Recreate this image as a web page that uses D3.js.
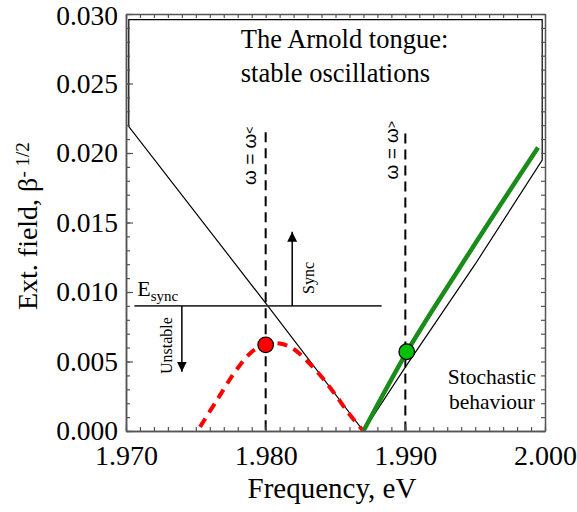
<!DOCTYPE html>
<html>
<head>
<meta charset="utf-8">
<script src="https://cdn.jsdelivr.net/npm/d3@7"></script>
<style>
body{margin:0;background:#fff;}
</style>
</head>
<body>
<div id="canvas"></div>
<script>
var width = 577;
var height = 512;
var margin = {top:14, right:32, bottom:81, left:126};
var serif = "'Liberation Serif', 'Times New Roman', Times, 'DejaVu Serif', serif";

// axes
var xDomain = [1.970, 2.000];
var yDomain = [0, 0.030];
var xMajor = [1.970, 1.980, 1.990, 2.000];
var yMajor = [0, 0.005, 0.010, 0.015, 0.020, 0.025, 0.030];
var xMinor = d3.range(0, 31).map(function(i){return 1.970 + i*0.001;});
var yMinor = d3.range(0, 31).map(function(i){return i*0.001;});

// Arnold tongue boundary (thin black)
var tongueX = [1.9702, 1.9702, 1.9800, 1.9870, 1.9900, 1.9950, 1.9998, 1.9998];
var tongueY = [0.0296, 0.0219, 0.0092, 0.0000, 0.0046, 0.0120, 0.0195, 0.0296];

// red dashed curve (unstable branch)
var redX = [1.9753, 1.9765, 1.9777, 1.9789, 1.9800, 1.9810, 1.9820, 1.9830, 1.9840, 1.9850, 1.9860, 1.9870];
var redY = [0.0003, 0.0022, 0.0041, 0.0056, 0.0062, 0.0063, 0.0059, 0.0050, 0.0039, 0.0026, 0.0012, 0.0000];

// green line
var greenX = [1.9870, 1.9900, 1.9938, 1.9995];
var greenY = [0.0000, 0.0055, 0.0116, 0.0204];

// markers
var pointX = [1.9800, 1.9901];
var pointY = [0.0062, 0.0057];
var pointColor = ["#ff0000", "#00c000"];

// vertical dashed lines
var vlineX = [1.980, 1.990];
var vlineTop = [0.0215, 0.0214];

var eSync = 0.009;
var eSyncX = [1.9706, 1.9883];
var syncArrow = [1.9819, 0.01433];
var unstableArrow = [1.9740, 0.00427];

var svg = d3.select("#canvas").append("svg")
	.attr("width", width)
	.attr("height", height)
	.attr("font-family", serif);

var defs = svg.append("defs");
defs.append("marker")
	.attr("id", "arr")
	.attr("viewBox", "0 0 10 10")
	.attr("refX", 10).attr("refY", 5)
	.attr("markerWidth", 10).attr("markerHeight", 10)
	.attr("markerUnits", "userSpaceOnUse")
	.attr("orient", "auto")
	.append("path").attr("d", "M0,0L10,5L0,10Z").attr("fill", "#000");

var x = d3.scaleLinear().domain(xDomain).range([margin.left, width - margin.right]);
var y = d3.scaleLinear().domain(yDomain).range([height - margin.bottom, margin.top]);

var line = d3.line().x(function(d){return x(d[0]);}).y(function(d){return y(d[1]);});
function zip(a, b){ return a.map(function(v, i){ return [v, b[i]]; }); }

// tongue boundary
svg.append("path")
	.datum(zip(tongueX, tongueY))
	.attr("d", function(d){ return line(d) + "Z"; })
	.attr("fill", "none")
	.attr("stroke", "#000")
	.attr("stroke-width", 1.2);

// E_sync line
svg.append("line")
	.attr("x1", x(eSyncX[0])).attr("x2", x(eSyncX[1]))
	.attr("y1", y(eSync)).attr("y2", y(eSync))
	.attr("stroke", "#333").attr("stroke-width", 1.6);

// arrows
svg.append("line")
	.attr("x1", x(syncArrow[0])).attr("x2", x(syncArrow[0]))
	.attr("y1", y(eSync)).attr("y2", y(syncArrow[1]))
	.attr("stroke", "#000").attr("stroke-width", 1.5)
	.attr("marker-end", "url(#arr)");
svg.append("line")
	.attr("x1", x(unstableArrow[0])).attr("x2", x(unstableArrow[0]))
	.attr("y1", y(eSync)).attr("y2", y(unstableArrow[1]))
	.attr("stroke", "#000").attr("stroke-width", 1.5)
	.attr("marker-end", "url(#arr)");

// vertical dashed lines
vlineX.forEach(function(v, i){
	svg.append("line")
		.attr("x1", x(v)).attr("x2", x(v))
		.attr("y1", y(vlineTop[i])).attr("y2", y(0))
		.attr("stroke", "#000").attr("stroke-width", 2)
		.attr("stroke-dasharray", "10,6");
});

// red dashed curve
svg.append("path")
	.datum(zip(redX, redY))
	.attr("d", d3.line().x(function(d){return x(d[0]);}).y(function(d){return y(d[1]);}).curve(d3.curveCardinal))
	.attr("fill", "none")
	.attr("stroke", "#ff0000")
	.attr("stroke-width", 4)
	.attr("stroke-dasharray", "10,7");

// green line
svg.append("path")
	.datum(zip(greenX, greenY))
	.attr("d", d3.line().x(function(d){return x(d[0]);}).y(function(d){return y(d[1]);}).curve(d3.curveMonotoneX))
	.attr("fill", "none")
	.attr("stroke", "#1a8c1a")
	.attr("stroke-width", 4.5);

// markers
svg.selectAll("circle.pt")
	.data(zip(pointX, pointY))
	.enter().append("circle")
	.attr("class", "pt")
	.attr("cx", function(d){return x(d[0]);})
	.attr("cy", function(d){return y(d[1]);})
	.attr("r", 7.8)
	.attr("fill", function(d, i){return pointColor[i];})
	.attr("stroke", "#000").attr("stroke-width", 1.2);

// axes
var axisColor = "#555";
function styleAxis(g){
	g.attr("font-family", serif);
	g.select(".domain").attr("stroke", axisColor).attr("stroke-width", 1.5);
	g.selectAll(".tick line").attr("stroke", axisColor).attr("stroke-width", 1.2);
	g.selectAll("text").attr("fill", "#000");
}
var fmt = d3.format(".3f");
var gx = svg.append("g").attr("transform", "translate(0," + y(0) + ")")
	.call(d3.axisBottom(x).tickValues(xMinor).tickFormat("").tickSizeInner(-4).tickSizeOuter(0));
styleAxis(gx);
var gx2 = svg.append("g").attr("transform", "translate(0," + y(0) + ")")
	.call(d3.axisBottom(x).tickValues(xMajor).tickFormat(fmt).tickSizeInner(-7).tickSizeOuter(0).tickPadding(14));
styleAxis(gx2);
gx2.attr("font-size", 28);

var gy = svg.append("g").attr("transform", "translate(" + x(xDomain[0]) + ",0)")
	.call(d3.axisLeft(y).tickValues(yMinor).tickFormat("").tickSizeInner(-4).tickSizeOuter(0));
styleAxis(gy);
var gy2 = svg.append("g").attr("transform", "translate(" + x(xDomain[0]) + ",0)")
	.call(d3.axisLeft(y).tickValues(yMajor).tickFormat(fmt).tickSizeInner(-7).tickSizeOuter(0).tickPadding(8));
styleAxis(gy2);
gy2.attr("font-size", 27.5);
// keep the top label inside the picture
gy2.selectAll(".tick text").filter(function(d){return d === yDomain[1];}).attr("y", 2);

var gt = svg.append("g").attr("transform", "translate(0," + y(yDomain[1]) + ")")
	.call(d3.axisTop(x).tickValues(xMinor).tickFormat("").tickSizeInner(-4).tickSizeOuter(0));
styleAxis(gt);
var gr = svg.append("g").attr("transform", "translate(" + x(xDomain[1]) + ",0)")
	.call(d3.axisRight(y).tickValues(yMinor).tickFormat("").tickSizeInner(-4).tickSizeOuter(0));
styleAxis(gr);

// axis titles
svg.append("text")
	.attr("x", 332)
	.attr("y", 498)
	.attr("text-anchor", "middle")
	.attr("font-size", 29)
	.text("Frequency, eV");

var yt = svg.append("text")
	.attr("transform", "translate(37," + (y(0.0087)) + ") rotate(-90)")
	.attr("text-anchor", "start")
	.attr("font-size", 28);
yt.append("tspan").text("Ext. field, β");
yt.append("tspan").attr("dy", -8).attr("font-size", 19).text("- 1/2");

// annotations
svg.append("text").attr("x", x(1.97822)).attr("y", y(0.02755))
	.attr("font-size", 26.5).text("The Arnold tongue:");
svg.append("text").attr("x", x(1.97822)).attr("y", y(0.02513))
	.attr("font-size", 26.5).text("stable oscillations");

var es = svg.append("text").attr("x", x(1.9708)).attr("y", y(0.0097)).attr("font-size", 22);
es.append("tspan").text("E");
es.append("tspan").attr("dy", 5).attr("font-size", 15).text("sync");

svg.append("text")
	.attr("transform", "translate(" + (x(syncArrow[0]) + 22) + "," + (y(eSync) - 12) + ") rotate(-90)")
	.attr("font-size", 16).text("Sync");
svg.append("text")
	.attr("transform", "translate(" + (x(unstableArrow[0]) - 10) + "," + y(0.0041) + ") rotate(-90)")
	.attr("font-size", 16).text("Unstable");

svg.append("text").attr("x", x(1.9962)).attr("y", y(0.0034))
	.attr("text-anchor", "middle").attr("font-size", 21.5).text("Stochastic");
svg.append("text").attr("x", x(1.9962)).attr("y", y(0.0016))
	.attr("text-anchor", "middle").attr("font-size", 21.5).text("behaviour");

var omegaLabels = [["ω = ω", "<"], ["ω = ω", ">"]];
var omegaBase = [[1.9793, 0.0177], [1.9895, 0.0181]];
omegaLabels.forEach(function(l, i){
	var t = svg.append("text")
		.attr("transform", "translate(" + x(omegaBase[i][0]) + "," + y(omegaBase[i][1]) + ") rotate(-90)")
		.attr("font-family", "'Liberation Sans', Arial, sans-serif")
		.attr("font-size", 19);
	t.append("tspan").text(l[0]);
	t.append("tspan").attr("dy", -2).attr("font-size", 12).text(l[1]);
});
</script>
</body>
</html>
